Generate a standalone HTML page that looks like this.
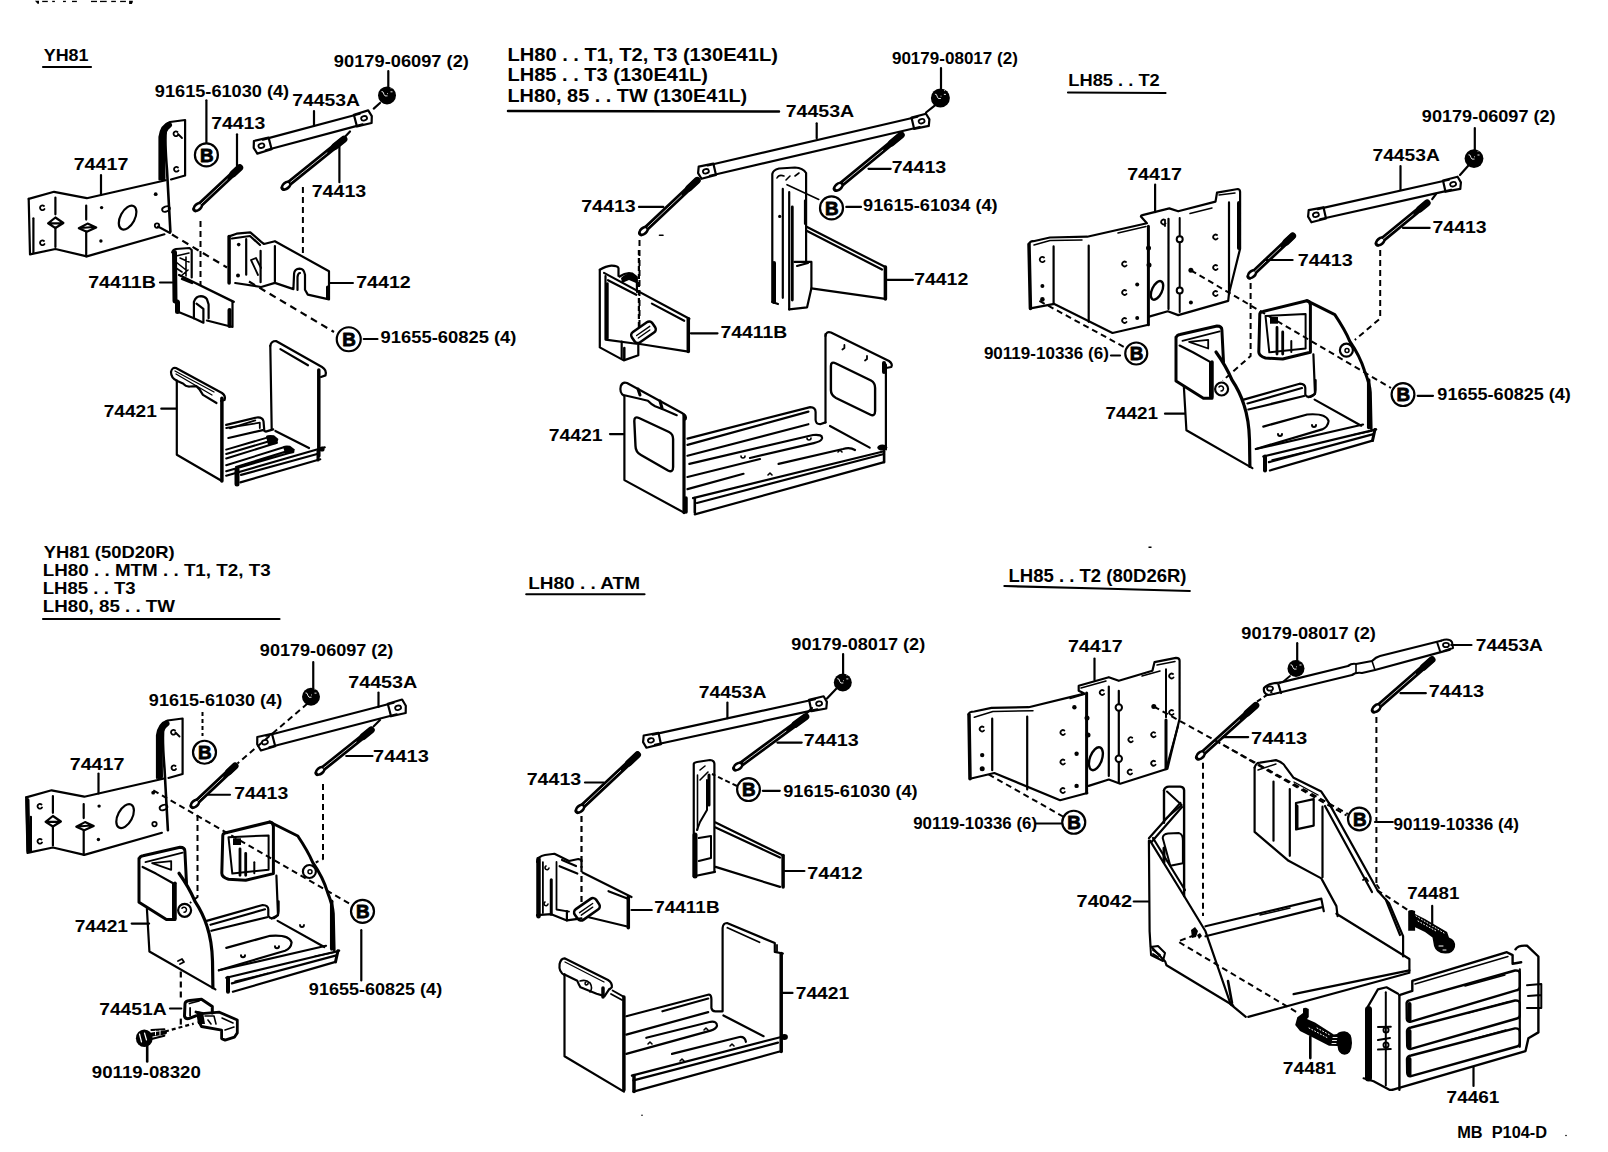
<!DOCTYPE html>
<html><head><meta charset="utf-8"><style>
html,body{margin:0;padding:0;background:#fff;}
svg{display:block;}
text{font-family:"Liberation Sans",sans-serif;font-weight:bold;fill:#000;}
</style></head><body>
<svg width="1608" height="1152" viewBox="0 0 1608 1152">
<rect width="1608" height="1152" fill="#fff"/>
<g fill="none" stroke="#000" stroke-width="2.2" stroke-linejoin="round" stroke-linecap="round">
<g fill="#000" stroke="none"><path d="M35 0.8 h4 v3 h-1.5 z"/><rect x="42.2" y="0.8" width="5.6" height="1.3"/><rect x="52.2" y="0.8" width="2.7" height="1.3"/><rect x="63" y="0.8" width="2.9" height="1.3"/><rect x="72" y="0.8" width="4.9" height="1.3"/><rect x="91" y="0.8" width="6" height="1.3"/><rect x="100" y="0.8" width="6.7" height="1.3"/><rect x="111.2" y="0.8" width="4.7" height="1.3"/><rect x="120.1" y="0.8" width="5.8" height="1.3"/><path d="M129.1 0.8 h3.7 v1.3 l-1 2 h-2.7 z"/></g>
<path d="M43 67 H91"/>
<g>
<path d="M28.7 198.9 L54.1 191.8 L86.8 198.2 L165.7 180.2"/>
<path d="M28.7 198.9 L30 254.4 L55.4 249 L86.8 256.4 L164.4 234.3"/>
<path d="M33.4 218.3 L33.4 253"/>
<path d="M159.5 179.5 L159.5 137 Q161 125 170 122 L185.1 120 L185.1 175.5 L171 179.5"/>
<path d="M162.5 178 L162 140 Q163 129 169 125" stroke-width="6"/>
<path d="M166 128 Q164.5 140 167 170 L170.4 231.7" stroke-width="2.6"/>
<path d="M55.4 197.6 V214.3 M55.4 228 V247"/>
<path d="M48.1 223.3 L55.4 217.5 L63.4 223 L55.4 228 Z M49 223.3 H62"/>
<path d="M86.2 205.6 V219.6 M86.2 231.7 V256.4"/>
<path d="M78.8 228.3 L87.5 223.6 L96.2 227.6 L86.7 231.7 Z M81 228 L93 227"/>
<ellipse cx="127.6" cy="217.6" rx="7.2" ry="13" transform="rotate(28 127.6 217.6)" stroke-width="2.2"/>
<path d="M44 206 a2.4 2.4 0 1 0 0.5 3 M44 241 a2.4 2.4 0 1 0 0.5 3 M177.5 132 a2.4 2.4 0 1 0 0.5 3 M178 134 l4 4 M178 167.5 a2.4 2.4 0 1 0 0.5 3" stroke-width="1.8"/>
<g fill="#000" stroke="none"><circle cx="101.6" cy="207.6" r="1.7"/><circle cx="100.9" cy="241" r="1.7"/><circle cx="155.7" cy="194.2" r="1.9"/></g>
<circle cx="157" cy="225.6" r="2.2" stroke-width="1.8"/>
<ellipse cx="166" cy="209" rx="4" ry="2.5" transform="rotate(-20 166 209)" stroke-width="1.8"/>
<path d="M101 175 V195"/>
</g>
<circle cx="206.4" cy="154.9" r="11.5" stroke-width="2.2"/>
<text x="200.00" y="161.50" font-size="18" stroke="#000" stroke-width="0.8" fill="#000" textLength="13.6" lengthAdjust="spacingAndGlyphs">B</text>
<path d="M206.4 100.3 V142.5"/>
<path d="M195.3 209.3 L239.7 167.6" stroke-width="6"/>
<ellipse cx="197.9" cy="206.9" rx="6" ry="4.3" transform="rotate(-43.2 197.9 206.9)" fill="#000" stroke="none"/>
<ellipse cx="197.9" cy="206.9" rx="3.4" ry="1.6" transform="rotate(-43.2 197.9 206.9)" fill="#fff" stroke="none"/>
<path d="M200.6 204.3 L227.3 179.3" stroke="#fff" stroke-width="0.8"/>
<path d="M233.0 173.9 L239.7 167.6" stroke-width="7"/>
<path d="M237 134.3 V165.6"/>
<path d="M283.5 187.8 L343.9 139.2" stroke-width="6"/>
<ellipse cx="286.2" cy="185.6" rx="6" ry="4.3" transform="rotate(-38.8 286.2 185.6)" fill="#000" stroke="none"/>
<ellipse cx="286.2" cy="185.6" rx="3.4" ry="1.6" transform="rotate(-38.8 286.2 185.6)" fill="#fff" stroke="none"/>
<path d="M290.7 182.0 L327.0 152.8" stroke="#fff" stroke-width="0.8"/>
<path d="M334.8 146.5 L343.9 139.2" stroke-width="7"/>
<path d="M339.4 145.4 V182.2"/>
<path d="M265.7 150.3 L362.6 124.4 M262.9 139.6 L359.8 113.7"/>
<path d="M271.6 149.2 L257.3 153.6 L253.7 147.8 L253.9 141.0 L268.5 137.6"/>
<path d="M271.5 148.7 L268.7 138.1"/>
<ellipse cx="261.4" cy="145.7" rx="3" ry="2.2" transform="rotate(-15.0 261.4 145.7)" stroke-width="1.8"/>
<path d="M357.0 126.4 L371.6 123.0 L371.8 116.2 L368.2 110.4 L353.9 114.8"/>
<path d="M356.8 125.9 L354.0 115.3"/>
<ellipse cx="364.1" cy="118.3" rx="3" ry="2.2" transform="rotate(-15.0 364.1 118.3)" stroke-width="1.8"/>
<path d="M314 111 V126"/>
<circle cx="387" cy="95.4" r="9" fill="#000" stroke="none"/>
<path d="M381.5 91.60000000000001 L383 91.9 L384 94.4 L385 95.9 H387.5 M390.5 91.80000000000001 H392.5 M390.6 88.0 h0.8 M387.2 93.60000000000001 h0.8" stroke="#fff" stroke-width="0.9" stroke-linecap="butt"/>
<path d="M388.3 71 V87"/>
<path d="M380 103 L373.75 108.6 M350 131.5 L345.3 136.4"/>
<path d="M302.9 187 V255" stroke-width="2" stroke-dasharray="6 4" stroke-linecap="butt"/>
<path d="M200.5 221 V285" stroke-width="2" stroke-dasharray="6 4" stroke-linecap="butt"/>
<path d="M158 226.5 L170 233" stroke-width="2"/>
<path d="M172 234.5 L227 267.5" stroke-width="2.2" stroke-dasharray="7 5" stroke-linecap="butt"/>
<path d="M249 281.5 L334 332" stroke-width="2.2" stroke-dasharray="7 5" stroke-linecap="butt"/>
<path d="M174.5 252.4 L175 301 L177.5 302 L177.5 311.4" stroke-width="5"/>
<path d="M172.2 252.4 Q173 249.5 176 249 L189.5 248 L191.7 250 L191.7 277.5"/>
<path d="M176 256 L189 253 M176 262 L186 270 M180 258 L189 262 M176 268 L182 272 M181 276 L188 270 M186 257 V276" stroke-width="1.6"/>
<path d="M179.1 275 L233.8 301.8 M182 279 L192 283" stroke-width="2.4"/>
<path d="M232.5 301.8 L232.5 327 L206.9 320.5 M203.4 322.7 L193.9 318.3 L177.4 311.4"/>
<path d="M229.5 310 V326" stroke-width="4"/>
<path d="M193.9 318.3 L193.9 301.8 Q196 296.2 200.8 296.2 Q205 296.5 206.9 299.2 L208.6 304.4 L208.6 318.3 M196.5 303.6 L203.4 308.8 L203.4 321.8" stroke-width="2.2"/>
<path d="M160 282.5 H172.3"/>
<path d="M229.1 236.4 L229.1 283" stroke-width="3.5"/>
<path d="M229.1 236.4 L236.6 233.7 L250.3 232.3 L261.2 241.9 L264 244 L274.9 241.2 L329 271.3 L329 299.4 L307.8 294.6 L305 289.8 L305 274.7 Q304 268.6 299.6 268.6 Q294.5 269 294.1 273.4 L293.4 289.1 L274.9 282.9 L261.2 287 L235.2 283"/>
<path d="M232 238.5 L250 236 L260 245"/>
<path d="M327.5 287 V298" stroke-width="3"/>
<path d="M246.2 239.2 V274.7 M260.6 250.8 V282.2 M274.9 246 V281.6 M297.5 290 V277 Q298 273 300 273"/>
<path d="M251 260 L256 258 L261 268 M251 260 L258 275" stroke-width="1.8"/>
<g fill="#000" stroke="none"><circle cx="238.7" cy="244.6" r="1.8"/><circle cx="238" cy="275.4" r="2"/></g>
<path d="M329.6 283 H352.9"/>
<path d="M176.8 380.7 L176.8 454.7 L221.9 481"/>
<path d="M221.9 398.2 L221.9 481" stroke-width="3.5"/>
<path d="M176.8 380.7 Q171 378 171 372 Q172 367 176 368 L222 393 Q226 396 224.6 400 L221 401"/>
<path d="M175 371 L214 392 M176 374 L212 395" stroke-width="1.3"/>
<path d="M176.8 380.7 L182.9 383.4 Q186 387 190 386.5 L196.3 386.1 Q200 389 203 394.9 L216.5 403"/>
<path d="M270.3 345.8 L271.7 429.2"/>
<path d="M270.3 345.8 Q271 341 276 341 L322 367 Q327 370 325.5 375.4 L321 377"/>
<path d="M318.8 370 L318.8 456" stroke-width="3.5"/>
<path d="M280.4 349.1 L308 365.3"/>
<path d="M226.2 424.9 L256.8 417.5 Q262.5 417 263.5 421.2 L264.3 430.9 L265.7 431.6 L273.2 429.4"/>
<path d="M229.9 428.3 L255.3 420.4" stroke-width="1.8"/>
<path d="M226.2 428 L259.8 422.7 V428" stroke-width="1.8"/>
<path d="M228.4 438 L262.8 430.1"/>
<path d="M226.2 449.6 L267.2 437.6 M226.2 458.5 L276.9 442.8 M226.2 454 L270 441" stroke-width="2"/>
<path d="M226.2 465.2 L283.7 447.3 M226.2 471.2 L293.4 451.8 M236 467 L286 451.5" stroke-width="2"/>
<g fill="#000" stroke="none"><path d="M266 436 Q268 434.5 274 435.3 L278.4 439 L277 444 L268 445 Z"/><path d="M283 446.5 Q285 445 290 445.8 L294.9 449.5 L293.5 453.3 L285 453.5 Z"/><circle cx="322" cy="449" r="2.6"/></g>
<path d="M226.2 475.7 L324.7 447.3 M241.1 474.9 L317.2 454 M240.4 482.4 L320.2 459.3"/>
<path d="M237 469.7 V483.9" stroke-width="5"/>
<path d="M275.4 430.9 L309 448.1"/>
<path d="M318 451 V460" stroke-width="3"/>
<path d="M161.3 408.7 H176.1"/>
<circle cx="348.75" cy="339.25" r="12" stroke-width="2.2"/>
<text x="342.35" y="345.85" font-size="18" stroke="#000" stroke-width="0.8" fill="#000" textLength="13.6" lengthAdjust="spacingAndGlyphs">B</text>
<path d="M363.75 339 H377.5"/>
<path d="M508 111 L779 111.5" stroke-width="2.5"/>
<path d="M710.0 175.8 L919.8 127.0 M707.7 165.5 L917.5 116.7"/>
<path d="M716.0 174.9 L701.5 178.8 L698.1 173.1 L698.7 166.6 L713.4 163.7"/>
<path d="M715.9 174.4 L713.5 164.2"/>
<ellipse cx="705.9" cy="171.3" rx="3" ry="2.2" transform="rotate(-13.1 705.9 171.3)" stroke-width="1.8"/>
<path d="M914.1 128.8 L928.8 125.9 L929.4 119.4 L926.0 113.7 L911.5 117.6"/>
<path d="M914.0 128.3 L911.6 118.1"/>
<ellipse cx="921.6" cy="121.2" rx="3" ry="2.2" transform="rotate(-13.1 921.6 121.2)" stroke-width="1.8"/>
<path d="M816.7 123.3 V138.2"/>
<circle cx="940.4" cy="98" r="9.5" fill="#000" stroke="none"/>
<path d="M934.9 94.2 L936.4 94.5 L937.4 97 L938.4 98.5 H940.9 M943.9 94.4 H945.9 M944.0 90.6 h0.8 M940.6 96.2 h0.8" stroke="#fff" stroke-width="0.9" stroke-linecap="butt"/>
<path d="M941 68 V88.5"/>
<path d="M935 105.4 L926 112.5"/>
<path d="M641.1 233.3 L697.2 180.4" stroke-width="6"/>
<ellipse cx="643.6" cy="230.9" rx="6" ry="4.3" transform="rotate(-43.3 643.6 230.9)" fill="#000" stroke="none"/>
<ellipse cx="643.6" cy="230.9" rx="3.4" ry="1.6" transform="rotate(-43.3 643.6 230.9)" fill="#fff" stroke="none"/>
<path d="M647.8 227.0 L681.5 195.2" stroke="#fff" stroke-width="0.8"/>
<path d="M688.8 188.3 L697.2 180.4" stroke-width="7"/>
<path d="M639 206.9 H663.3"/>
<path d="M639.5 240 V330" stroke-width="2" stroke-dasharray="6 4" stroke-linecap="butt"/>
<path d="M835.7 188.9 L901.2 135.0" stroke-width="6"/>
<ellipse cx="838.4" cy="186.7" rx="6" ry="4.3" transform="rotate(-39.5 838.4 186.7)" fill="#000" stroke="none"/>
<ellipse cx="838.4" cy="186.7" rx="3.4" ry="1.6" transform="rotate(-39.5 838.4 186.7)" fill="#fff" stroke="none"/>
<path d="M843.6 182.4 L882.9 150.1" stroke="#fff" stroke-width="0.8"/>
<path d="M891.4 143.1 L901.2 135.0" stroke-width="7"/>
<path d="M868.5 168.8 H890.7"/>
<circle cx="831.5" cy="207.9" r="11.5" stroke-width="2.2"/>
<text x="825.10" y="214.50" font-size="18" stroke="#000" stroke-width="0.8" fill="#000" textLength="13.6" lengthAdjust="spacingAndGlyphs">B</text>
<path d="M846.3 206.9 H861"/>
<path d="M818.8 199.5 L787 184.7" stroke-width="1.6"/>
<path d="M772.3 302 L772.3 174 Q773 170 779 168.5 L795 167.5 Q803 168 806.1 173 L806.1 261.9"/>
<path d="M782.8 188.9 V297.8 M789.2 192 V309.4 M805 200.5 V223.8"/>
<path d="M792.3 206.9 V300" stroke-width="2.8"/>
<path d="M774 263 V302" stroke-width="4"/>
<path d="M794.5 261.9 H811.4 V288.3 L807.1 307.3 L789.2 309.4 M772.3 302 L778 304 M797 266 L808 263"/>
<path d="M807.1 227 L885.4 267.1 M807.1 231 L882 269.5"/>
<path d="M885.4 267.1 V298.9" stroke-width="3.5"/>
<path d="M811.4 288.3 L885.4 298.9"/>
<path d="M777 178 Q779 174 784 176 M786 180 l4 -4 M795 176 l4 -3" stroke-width="1.6"/>
<circle cx="779.7" cy="216.4" r="1.6" fill="#000" stroke="none"/>
<path d="M887.5 279.8 H912.9"/>
<path d="M599.8 269.8 L599.8 347.4 L623.75 360.4 L638.3 355.2 L638.3 343.75"/>
<path d="M599.8 269.8 Q606 266 611.3 265.6 Q618 265.5 618.5 268.2 L618.5 276"/>
<path d="M605.5 276 V339.6 L636.25 343.75 M607.6 283.3 V338.5"/>
<path d="M619.6 276.5 Q626 272 632 273.5 L636.8 277.1 L637 292" stroke-width="2.2"/>
<path d="M621 278 Q626 272.5 632 274 L636 277 L636 283 L629 280 L622 283 Z" fill="#000" stroke="none"/>
<path d="M604 272.9 L689.4 318.75 M608 280.2 L636.25 294.8 M651.9 303.6 L684.2 320.8"/>
<path d="M688.3 318.75 V351.6" stroke-width="3.5"/>
<path d="M638.3 343.75 L688.3 351.6"/>
<path d="M621.7 341.7 V358.3"/>
<path d="M624.3 348 V359.4" stroke-width="2.5"/>
<g transform="rotate(-35 643.5 332.3)"><rect x="631" y="326" width="25" height="12.5" rx="4" stroke-width="2.6"/><path d="M636 331 H652 M636 334 H650" stroke-width="1.4"/></g>
<path d="M638.9 250 V328" stroke-width="2.2" stroke-dasharray="5 3" stroke-linecap="butt"/>
<path d="M690.9 333.3 H717.5"/>
<path d="M624.4 397.1 L624.4 480.1 L684 512.6"/>
<path d="M684 415.2 L684 512.6" stroke-width="3.2"/>
<path d="M624.4 396 Q619 393 620.8 386 Q622.5 381.5 627 383 L682 413 Q687 416 685.7 419 L684 420"/>
<path d="M624.4 395.3 L640.7 399 L647.9 400.7 Q651 404 655.1 406.2 L664.1 409.8 L676.7 415.2"/>
<path d="M638 389 L640 395 M660 401 L662 408" stroke-width="3"/>
<path d="M634.3 421 Q634.3 416 639 418 L669 432 Q673.1 434 673.1 439 L673.1 467 Q673.1 473 668 470.5 L641 455 Q635.5 452 635.5 446 Z" stroke-width="2.4"/>
<path d="M825.5 334 L825.5 422.4"/>
<path d="M825.5 336 Q826 331 831 332.5 L889 361 Q893 364 891.3 367 L886 368"/>
<path d="M885.9 364.7 L885.9 449.4"/>
<path d="M830.9 366 Q830.9 361 836 363.5 L871 380.5 Q875.1 382.7 875.1 388 L875.1 411 Q875.1 417 870 414.5 L836 398 Q830.9 395.3 830.9 390 Z" stroke-width="2.4"/>
<path d="M844.4 345 v3 l-2 1.5 M867 356 v3 l-2 1.5" stroke-width="1.8"/>
<path d="M884 363 V372" stroke-width="4"/>
<path d="M687.5 438.6 L810.2 407.1 Q815.6 407.5 815.6 412 L815.6 420 Q816 424.2 820.1 424.2 L825.5 422.4"/>
<path d="M687.5 444.9 L808.4 411.6 M687.5 455.7 L808.4 424.2"/>
<path d="M689.4 463.9 L813 435 Q822.8 434 822 438.5 Q821 441.5 813.8 443.1 L750 458"/>
<path d="M830 426 L869.7 447.6"/>
<path d="M687.5 489.1 L743.5 473.8 M778.6 463.9 L843 449 Q850 447 855 450 M687.5 477 L760 459"/>
<path d="M694.8 514.4 L884.1 462.1 M693 498.1 L884.1 451.2 M697 503 L884 454"/>
<path d="M694.8 498.1 V512.6 M884.1 451.2 V462.1" stroke-width="2.6"/>
<path d="M686 498 V512" stroke-width="3.5"/>
<g fill="#000" stroke="none"><ellipse cx="882.3" cy="447.6" rx="5" ry="3"/></g>
<path d="M741 456 a2 2 0 0 0 4 0 M807 438 a2 2 0 0 0 4 0 M768 475 l2 -2 l2 2 M838 452 l2 -2 l2 2" stroke-width="1.6"/>
<path d="M610 434.1 H623.5"/>
<path d="M1068 92.5 L1165.5 93"/>
<path d="M1320.0 219.3 L1451.3 189.9 M1317.7 209.1 L1449.0 179.7"/>
<path d="M1326.0 218.5 L1311.4 222.3 L1308.1 216.6 L1308.7 210.1 L1323.5 207.3"/>
<path d="M1325.9 218.0 L1323.6 207.8"/>
<ellipse cx="1315.9" cy="214.8" rx="3" ry="2.2" transform="rotate(-12.6 1315.9 214.8)" stroke-width="1.8"/>
<path d="M1445.5 191.7 L1460.3 188.9 L1460.9 182.4 L1457.6 176.7 L1443.0 180.5"/>
<path d="M1445.4 191.2 L1443.1 181.0"/>
<ellipse cx="1453.1" cy="184.2" rx="3" ry="2.2" transform="rotate(-12.6 1453.1 184.2)" stroke-width="1.8"/>
<path d="M1400.5 166 V190"/>
<circle cx="1474" cy="158.6" r="9.4" fill="#000" stroke="none"/>
<path d="M1468.5 154.79999999999998 L1470 155.1 L1471 157.6 L1472 159.1 H1474.5 M1477.5 155.0 H1479.5 M1477.6 151.2 h0.8 M1474.2 156.79999999999998 h0.8" stroke="#fff" stroke-width="0.9" stroke-linecap="butt"/>
<path d="M1474.8 128 V150"/>
<path d="M1468 166 L1460 175"/>
<path d="M1377.6 243.6 L1427.1 203.0" stroke-width="6"/>
<ellipse cx="1380.3" cy="241.4" rx="6" ry="4.3" transform="rotate(-39.4 1380.3 241.4)" fill="#000" stroke="none"/>
<ellipse cx="1380.3" cy="241.4" rx="3.4" ry="1.6" transform="rotate(-39.4 1380.3 241.4)" fill="#fff" stroke="none"/>
<path d="M1383.5 238.7 L1413.2 214.4" stroke="#fff" stroke-width="0.8"/>
<path d="M1419.7 209.1 L1427.1 203.0" stroke-width="7"/>
<path d="M1403 227.9 H1429.6"/>
<path d="M1436 194 L1432.2 199.2"/>
<path d="M1249.5 276.6 L1292.6 236.0" stroke-width="6"/>
<ellipse cx="1252.0" cy="274.2" rx="6" ry="4.3" transform="rotate(-43.3 1252.0 274.2)" fill="#000" stroke="none"/>
<ellipse cx="1252.0" cy="274.2" rx="3.4" ry="1.6" transform="rotate(-43.3 1252.0 274.2)" fill="#fff" stroke="none"/>
<path d="M1254.7 271.7 L1280.5 247.4" stroke="#fff" stroke-width="0.8"/>
<path d="M1286.1 242.1 L1292.6 236.0" stroke-width="7"/>
<path d="M1264.7 260 H1292.6"/>
<path d="M1380.2 250 V318.4 L1354.8 340" stroke-width="2" stroke-dasharray="6 4" stroke-linecap="butt"/>
<path d="M1250.6 283 V356 L1222.7 380.7" stroke-width="2" stroke-dasharray="6 4" stroke-linecap="butt"/>
<path d="M1029 244.2 L1030.4 308.4" stroke-width="3.5"/>
<path d="M1029 244.2 Q1030 241 1033.4 241.2 L1049.9 237.5 L1087.2 236.7 L1146.9 223.3 L1140.9 216.6 Q1141 215 1142.4 215.1 L1163.3 209.9 L1169.3 208.4 L1178.2 211.3 L1215.5 201.6 L1217 192.7 L1237.9 189 Q1240 189.5 1240.1 191.9 L1240.1 248.7 L1229 293.4 L1228.2 300.9 L1178.2 315.1 L1167.8 311.3 L1149.1 316.6"/>
<path d="M1034 245 L1050 240.5 L1082 240 M1118 233 L1146 226.5 M1190 213.5 L1212 208 M1219 195 L1235 193" stroke-width="1.5"/>
<path d="M1148.4 324.8 L1112.5 333 L1054.3 303.9 L1030.4 308.4"/>
<path d="M1148.4 226.3 L1148.4 324.8" stroke-width="3"/>
<path d="M1053.6 246.4 V303.9 M1088.7 245.7 V321.8 M1168.5 218.8 V309.1 M1229 202.4 V293.4" stroke-width="2.2"/>
<path d="M1179.7 218 V236 M1179.7 242.5 V287 M1179.7 294 V312.1" stroke-width="2"/>
<path d="M1239 203 V248" stroke-width="4"/>
<circle cx="1179.7" cy="239.2" r="3" stroke-width="2"/><circle cx="1179.7" cy="290.4" r="3" stroke-width="2"/>
<ellipse cx="1157" cy="290.4" rx="5" ry="10" transform="rotate(25 1157 290.4)" stroke-width="2.4"/>
<path d="M1044 257.5 a2.6 2.6 0 1 0 0.5 3.5 M1126 262 a2.4 2.4 0 1 0 0.5 3.5 M1126 290.5 a2.4 2.4 0 1 0 0.5 3.5 M1126 318.5 a2.4 2.4 0 1 0 0.5 3.5 M1217 235 a2.4 2.4 0 1 0 0.5 3.5 M1217 265.5 a2.4 2.4 0 1 0 0.5 3.5 M1217 291.5 a2.4 2.4 0 1 0 0.5 3.5 M1165 220 a2.4 2.4 0 1 0 0.5 3.5 M1165 220 v6" stroke-width="1.8"/>
<g fill="#000" stroke="none"><circle cx="1042.4" cy="286" r="2"/><circle cx="1042.4" cy="299.4" r="2.3"/><circle cx="1137.2" cy="318.1" r="2"/><circle cx="1137.2" cy="284.5" r="2"/><circle cx="1190.9" cy="270.3" r="2.5"/><circle cx="1190.9" cy="302.4" r="2"/><circle cx="1148.5" cy="248" r="2.5"/><circle cx="1149" cy="265" r="2.5"/></g>
<path d="M1155.1 184.5 V212.1"/>
<circle cx="1136.25" cy="353.5" r="11" stroke-width="2.2"/>
<text x="1129.85" y="360.10" font-size="18" stroke="#000" stroke-width="0.8" fill="#000" textLength="13.6" lengthAdjust="spacingAndGlyphs">B</text>
<path d="M1111 355.5 H1120"/>
<path d="M1039.4 300.9 L1125 347.5" stroke-width="2" stroke-dasharray="6 4" stroke-linecap="butt"/>
<circle cx="1403" cy="394.6" r="11.4" stroke-width="2.2"/>
<text x="1396.60" y="401.20" font-size="18" stroke="#000" stroke-width="0.8" fill="#000" textLength="13.6" lengthAdjust="spacingAndGlyphs">B</text>
<path d="M1417.7 395.8 H1433"/>
<path d="M1190.9 270.3 L1391 388" stroke-width="2" stroke-dasharray="6 4" stroke-linecap="butt"/>
<path d="M1176.5 337 Q1177 335 1180 334.5 L1217 326 Q1221.9 326 1221.9 330 L1223.5 362 M1176 337 L1176 381 L1203.4 398.2 L1212 398.2" stroke-width="3"/>
<path d="M1179.6 345.6 L1192.9 352.3 L1210.1 361.9 L1210.1 396.2" stroke-width="2.2"/>
<path d="M1212 362 L1212 397" stroke-width="3.5"/>
<path d="M1182.4 340.8 L1219.7 331.3 M1189.1 341.8 L1208.2 339.9 L1208.2 348.5 Z" stroke-width="1.8"/>
<path d="M1183.9 387.3 L1186.4 430.2 L1252.4 468.1"/>
<path d="M1216 352 Q1226 366 1232 380 Q1240 392 1244 405 Q1249 420 1249.5 440 L1249.9 466.4" stroke-width="3.2"/>
<path d="M1259.8 314 Q1260 312 1263 311.5 L1306.8 300.7 Q1310 301 1310.4 305 L1310.4 352.3 L1282.7 359 L1265.5 358 Q1258.8 356 1258.8 352 Z" stroke-width="3"/>
<path d="M1265.5 316 L1305.6 314.1 L1305.6 348.5 L1269.3 352.3 Z" stroke-width="2"/>
<path d="M1277 327.5 V354 M1282.7 332 V354" stroke-width="2.8"/>
<path d="M1291.3 341 V352" stroke-width="2"/>
<path d="M1270 317 h8 v6.7 h-8 z" fill="#000" stroke="none"/>
<path d="M1306.8 300.7 L1334.8 314.7 Q1345 330 1349.7 341.1 Q1360 356 1364.5 370.8 Q1370 385 1370.3 392.2 L1371.1 428.5" stroke-width="3"/>
<circle cx="1346.4" cy="350.2" r="6.5" stroke-width="2.2"/><circle cx="1347" cy="350.5" r="2" stroke-width="1.5"/>
<path d="M1313.4 354.3 L1315 393.9 L1308.5 397.2"/>
<path d="M1243.7 399.6 L1299.7 383.7 Q1305.3 384 1305.3 388 L1305.3 394.9 Q1307 397.5 1310.9 396.8 Q1315.6 395 1315.6 390 L1315.6 380"/>
<path d="M1247.5 403.5 L1302 388 M1248.4 409.5 L1304 396"/>
<path d="M1314.6 399.6 L1361.3 425.7"/>
<path d="M1263.3 426.6 L1307.2 414.5 Q1326 413 1328.6 421 Q1328 427 1322.1 429.4 L1255.9 449"/>
<path d="M1255.9 449 L1363 424.5"/>
<path d="M1263.3 456.5 L1376.2 429.4 M1268.9 462.1 L1373.4 434.1 M1269.9 470.5 L1372.5 440.6"/>
<path d="M1265 456.5 V470.5" stroke-width="4"/>
<path d="M1375 429.4 L1372.5 440.6" stroke-width="3"/>
<path d="M1272 460 L1305 452 M1352 435 L1372 431" stroke-width="1.4"/>
<path d="M1368.7 380 V427.6" stroke-width="3.5"/>
<path d="M1278 434 a2 2 0 0 0 4 0 M1312 425 a2 2 0 0 0 4 0" stroke-width="2"/>
<circle cx="1221.6" cy="389" r="6.5" stroke-width="2.2"/><path d="M1219 387 a2.5 2.5 0 1 1 2 4" stroke-width="1.5"/>
<path d="M1165 413.7 H1184.7"/>
<path d="M43 619 L279.5 619"/>
<g transform="translate(-2.5 598.5)">
<path d="M28.7 198.9 L54.1 191.8 L86.8 198.2 L165.7 180.2"/>
<path d="M28.7 198.9 L30 254.4 L55.4 249 L86.8 256.4 L164.4 234.3"/>
<path d="M33.4 218.3 L33.4 253"/>
<path d="M159.5 179.5 L159.5 137 Q161 125 170 122 L185.1 120 L185.1 175.5 L171 179.5"/>
<path d="M162.5 178 L162 140 Q163 129 169 125" stroke-width="6"/>
<path d="M166 128 Q164.5 140 167 170 L170.4 231.7" stroke-width="2.6"/>
<path d="M55.4 197.6 V214.3 M55.4 228 V247"/>
<path d="M48.1 223.3 L55.4 217.5 L63.4 223 L55.4 228 Z M49 223.3 H62"/>
<path d="M86.2 205.6 V219.6 M86.2 231.7 V256.4"/>
<path d="M78.8 228.3 L87.5 223.6 L96.2 227.6 L86.7 231.7 Z M81 228 L93 227"/>
<ellipse cx="127.6" cy="217.6" rx="7.2" ry="13" transform="rotate(28 127.6 217.6)" stroke-width="2.2"/>
<path d="M44 206 a2.4 2.4 0 1 0 0.5 3 M44 241 a2.4 2.4 0 1 0 0.5 3 M177.5 132 a2.4 2.4 0 1 0 0.5 3 M178 134 l4 4 M178 167.5 a2.4 2.4 0 1 0 0.5 3" stroke-width="1.8"/>
<g fill="#000" stroke="none"><circle cx="101.6" cy="207.6" r="1.7"/><circle cx="100.9" cy="241" r="1.7"/><circle cx="155.7" cy="194.2" r="1.9"/></g>
<circle cx="157" cy="225.6" r="2.2" stroke-width="1.8"/>
<ellipse cx="166" cy="209" rx="4" ry="2.5" transform="rotate(-20 166 209)" stroke-width="1.8"/>
<path d="M101 175 V195"/>
</g>
<path d="M27.5 800 L28.5 851" stroke-width="4"/>
<circle cx="204.5" cy="752.25" r="11.5" stroke-width="2.2"/>
<text x="198.10" y="758.85" font-size="18" stroke="#000" stroke-width="0.8" fill="#000" textLength="13.6" lengthAdjust="spacingAndGlyphs">B</text>
<path d="M202.5 712 V736" stroke-width="2" stroke-dasharray="4 3" stroke-linecap="butt"/>
<circle cx="311" cy="696.75" r="9" fill="#000" stroke="none"/>
<path d="M305.5 692.95 L307 693.25 L308 695.75 L309 697.25 H311.5 M314.5 693.15 H316.5 M314.6 689.35 h0.8 M311.2 694.95 h0.8" stroke="#fff" stroke-width="0.9" stroke-linecap="butt"/>
<path d="M313.25 662 V688"/>
<path d="M269.3 747.3 L396.7 714.3 M266.3 735.7 L393.7 702.7"/>
<path d="M275.2 746.3 L260.9 750.5 L257.2 744.3 L257.3 737.0 L272.0 733.7"/>
<path d="M275.1 745.8 L272.1 734.2"/>
<ellipse cx="264.9" cy="742.2" rx="3" ry="2.2" transform="rotate(-14.5 264.9 742.2)" stroke-width="1.8"/>
<path d="M391.0 716.3 L405.7 713.0 L405.8 705.7 L402.1 699.5 L387.8 703.7"/>
<path d="M390.9 715.8 L387.9 704.2"/>
<ellipse cx="398.1" cy="707.8" rx="3" ry="2.2" transform="rotate(-14.5 398.1 707.8)" stroke-width="1.8"/>
<path d="M378.5 692.5 V707"/>
<path d="M307.5 703.5 L237.5 763.5" stroke-width="2" stroke-dasharray="6 4" stroke-linecap="butt"/>
<path d="M317.5 773.0 L371.2 730.0" stroke-width="6"/>
<ellipse cx="320.2" cy="770.8" rx="6" ry="4.3" transform="rotate(-38.7 320.2 770.8)" fill="#000" stroke="none"/>
<ellipse cx="320.2" cy="770.8" rx="3.4" ry="1.6" transform="rotate(-38.7 320.2 770.8)" fill="#fff" stroke="none"/>
<path d="M323.9 767.8 L356.2 742.0" stroke="#fff" stroke-width="0.8"/>
<path d="M363.2 736.5 L371.2 730.0" stroke-width="7"/>
<path d="M346.25 756 H372.5"/>
<path d="M380 720 L373.75 726.25"/>
<path d="M192.5 806.0 L235.0 766.0" stroke-width="6"/>
<ellipse cx="195.0" cy="803.6" rx="6" ry="4.3" transform="rotate(-43.3 195.0 803.6)" fill="#000" stroke="none"/>
<ellipse cx="195.0" cy="803.6" rx="3.4" ry="1.6" transform="rotate(-43.3 195.0 803.6)" fill="#fff" stroke="none"/>
<path d="M197.6 801.2 L223.1 777.2" stroke="#fff" stroke-width="0.8"/>
<path d="M228.6 772.0 L235.0 766.0" stroke-width="7"/>
<path d="M207.5 794.75 H230"/>
<path d="M323 784 V859 L315.7 862.5" stroke-width="2" stroke-dasharray="6 4" stroke-linecap="butt"/>
<path d="M197.5 815 V897 L190 903" stroke-width="2" stroke-dasharray="6 4" stroke-linecap="butt"/>
<path d="M153.3 790.3 L352 905" stroke-width="2" stroke-dasharray="6 4" stroke-linecap="butt"/>
<g transform="translate(-1037 521.3)">
<path d="M1176.5 337 Q1177 335 1180 334.5 L1217 326 Q1221.9 326 1221.9 330 L1223.5 362 M1176 337 L1176 381 L1203.4 398.2 L1212 398.2" stroke-width="3"/>
<path d="M1179.6 345.6 L1192.9 352.3 L1210.1 361.9 L1210.1 396.2" stroke-width="2.2"/>
<path d="M1212 362 L1212 397" stroke-width="3.5"/>
<path d="M1182.4 340.8 L1219.7 331.3 M1189.1 341.8 L1208.2 339.9 L1208.2 348.5 Z" stroke-width="1.8"/>
<path d="M1183.9 387.3 L1186.4 430.2 L1252.4 468.1"/>
<path d="M1216 352 Q1226 366 1232 380 Q1240 392 1244 405 Q1249 420 1249.5 440 L1249.9 466.4" stroke-width="3.2"/>
<path d="M1259.8 314 Q1260 312 1263 311.5 L1306.8 300.7 Q1310 301 1310.4 305 L1310.4 352.3 L1282.7 359 L1265.5 358 Q1258.8 356 1258.8 352 Z" stroke-width="3"/>
<path d="M1265.5 316 L1305.6 314.1 L1305.6 348.5 L1269.3 352.3 Z" stroke-width="2"/>
<path d="M1277 327.5 V354 M1282.7 332 V354" stroke-width="2.8"/>
<path d="M1291.3 341 V352" stroke-width="2"/>
<path d="M1270 317 h8 v6.7 h-8 z" fill="#000" stroke="none"/>
<path d="M1306.8 300.7 L1334.8 314.7 Q1345 330 1349.7 341.1 Q1360 356 1364.5 370.8 Q1370 385 1370.3 392.2 L1371.1 428.5" stroke-width="3"/>
<circle cx="1346.4" cy="350.2" r="6.5" stroke-width="2.2"/><circle cx="1347" cy="350.5" r="2" stroke-width="1.5"/>
<path d="M1313.4 354.3 L1315 393.9 L1308.5 397.2"/>
<path d="M1243.7 399.6 L1299.7 383.7 Q1305.3 384 1305.3 388 L1305.3 394.9 Q1307 397.5 1310.9 396.8 Q1315.6 395 1315.6 390 L1315.6 380"/>
<path d="M1247.5 403.5 L1302 388 M1248.4 409.5 L1304 396"/>
<path d="M1314.6 399.6 L1361.3 425.7"/>
<path d="M1263.3 426.6 L1307.2 414.5 Q1326 413 1328.6 421 Q1328 427 1322.1 429.4 L1255.9 449"/>
<path d="M1255.9 449 L1363 424.5"/>
<path d="M1263.3 456.5 L1376.2 429.4 M1268.9 462.1 L1373.4 434.1 M1269.9 470.5 L1372.5 440.6"/>
<path d="M1265 456.5 V470.5" stroke-width="4"/>
<path d="M1375 429.4 L1372.5 440.6" stroke-width="3"/>
<path d="M1272 460 L1305 452 M1352 435 L1372 431" stroke-width="1.4"/>
<path d="M1368.7 380 V427.6" stroke-width="3.5"/>
<path d="M1278 434 a2 2 0 0 0 4 0 M1312 425 a2 2 0 0 0 4 0" stroke-width="2"/>
<circle cx="1221.6" cy="389" r="6.5" stroke-width="2.2"/><path d="M1219 387 a2.5 2.5 0 1 1 2 4" stroke-width="1.5"/>
</g>
<path d="M131.7 923.6 H149.1"/>
<circle cx="362.5" cy="911.3" r="11.5" stroke-width="2.2"/>
<text x="356.10" y="917.90" font-size="18" stroke="#000" stroke-width="0.8" fill="#000" textLength="13.6" lengthAdjust="spacingAndGlyphs">B</text>
<path d="M361.3 930.2 V980.5"/>
<path d="M180.8 971.5 V1000.7" stroke-width="2.2" stroke-dasharray="6 4" stroke-linecap="butt"/>
<path d="M180.8 1018.6 V1026" stroke-width="2.2" stroke-dasharray="6 4" stroke-linecap="butt"/>
<path d="M178 961 l4 -2 l2 3 l-4 2" stroke-width="1.8"/>
<path d="M300 925 a2 2 0 0 0 4 0" stroke-width="1.8"/>
<path d="M185 1004 Q185 1001 190 1000.5 L201.5 999.3 L212.3 1006.5 L212.3 1013 M185 1004 L184.5 1016 Q185 1019 188.7 1018.6 L195.8 1015.8" stroke-width="3"/>
<path d="M190.1 1007.9 V1015.8 M189.4 1003.5 L199 1001" stroke-width="1.8"/>
<path d="M196 1012 L201.5 1013.6 L219.4 1012.2 L237.3 1020 L237.3 1032.9 L234.4 1037.2 L225.1 1040.1 L221.6 1038.6 L221.6 1030.1 L201.5 1026.5 L199 1022" stroke-width="2.8"/>
<path d="M205 1016 L214 1016 L216 1024 M222 1018 L233 1023 M225 1030 L234 1027 M208 1020 l3 4" stroke-width="1.6"/>
<g fill="#000" stroke="none"><path d="M196 1011 L203 1012 L205 1024 L198 1024 Z"/></g>
<ellipse cx="144.3" cy="1038.3" rx="8.4" ry="8.8" fill="#000" stroke="none"/>
<path d="M139.5 1034 L141.5 1042 M144.5 1033 L146.5 1040" stroke-width="1.2" stroke="#fff"/>
<path d="M151.5 1030 L164.3 1029.3 M151.5 1039 L164.3 1035.8" stroke-width="2.2"/>
<path d="M152 1034.5 L165 1032.5" stroke-width="4"/>
<path d="M155.5 1031 V1035 M160 1030.5 V1034.5" stroke-width="1" stroke="#fff"/>
<path d="M165 1031.5 L193.7 1023.6" stroke-width="2.2" stroke-dasharray="4 3" stroke-linecap="butt"/>
<path d="M147.2 1046 V1061.5" stroke-width="2.6"/>
<path d="M170 1008.5 H181.25"/>
<path d="M526.25 594.25 L644.5 594.25"/>
<circle cx="842.8" cy="682.5" r="9" fill="#000" stroke="none"/>
<path d="M837.3 678.7 L838.8 679.0 L839.8 681.5 L840.8 683.0 H843.3 M846.3 678.9 H848.3 M846.4 675.1 h0.8 M843.0 680.7 h0.8" stroke="#fff" stroke-width="0.9" stroke-linecap="butt"/>
<path d="M843.1 654 V675"/>
<path d="M836 689 L827 698.5"/>
<path d="M655.0 744.8 L817.3 709.4 M652.7 734.6 L815.0 699.2"/>
<path d="M661.0 744.1 L646.4 747.7 L643.1 742.1 L643.7 735.5 L658.5 732.8"/>
<path d="M660.8 743.6 L658.6 733.3"/>
<ellipse cx="650.9" cy="740.4" rx="3" ry="2.2" transform="rotate(-12.3 650.9 740.4)" stroke-width="1.8"/>
<path d="M811.5 711.2 L826.3 708.5 L826.9 701.9 L823.6 696.3 L809.0 699.9"/>
<path d="M811.4 710.7 L809.2 700.4"/>
<ellipse cx="819.1" cy="703.6" rx="3" ry="2.2" transform="rotate(-12.3 819.1 703.6)" stroke-width="1.8"/>
<path d="M727.4 702.5 V718.2"/>
<path d="M735.2 768.5 L805.8 716.6" stroke-width="6"/>
<ellipse cx="738.0" cy="766.4" rx="6" ry="4.3" transform="rotate(-36.3 738.0 766.4)" fill="#000" stroke="none"/>
<ellipse cx="738.0" cy="766.4" rx="3.4" ry="1.6" transform="rotate(-36.3 738.0 766.4)" fill="#fff" stroke="none"/>
<path d="M743.7 762.3 L786.0 731.1" stroke="#fff" stroke-width="0.8"/>
<path d="M795.2 724.4 L805.8 716.6" stroke-width="7"/>
<path d="M777.4 742.6 H801.7"/>
<path d="M812 708 L807 713"/>
<circle cx="748.5" cy="789.6" r="11.4" stroke-width="2.2"/>
<text x="742.10" y="796.20" font-size="18" stroke="#000" stroke-width="0.8" fill="#000" textLength="13.6" lengthAdjust="spacingAndGlyphs">B</text>
<path d="M762.8 790.8 H779.8"/>
<path d="M737 786 L712 774" stroke-width="2" stroke-dasharray="5 3" stroke-linecap="butt"/>
<path d="M577.5 811.0 L637.5 754.8" stroke-width="6"/>
<ellipse cx="580.1" cy="808.6" rx="6" ry="4.3" transform="rotate(-43.2 580.1 808.6)" fill="#000" stroke="none"/>
<ellipse cx="580.1" cy="808.6" rx="3.4" ry="1.6" transform="rotate(-43.2 580.1 808.6)" fill="#fff" stroke="none"/>
<path d="M584.7 804.2 L620.7 770.5" stroke="#fff" stroke-width="0.8"/>
<path d="M628.5 763.2 L637.5 754.8" stroke-width="7"/>
<path d="M585 782.5 H603.75"/>
<path d="M581.5 816 V904" stroke-width="2.2" stroke-dasharray="6 4" stroke-linecap="butt"/>
<path d="M693.75 876.25 L693.75 764 Q694 762.5 697 762 L710 760 Q714.4 760.5 714.4 764 L714.4 871.25"/>
<path d="M695 835 V876" stroke-width="5"/>
<path d="M697.5 775 L697.5 830 M700 770 L705 766 M700 780 L708 772" stroke-width="1.6"/>
<path d="M707 780 V810 L700 822 L697 830" stroke-width="2"/>
<path d="M709 775 V805" stroke-width="3"/>
<path d="M698.75 838 L711 836 L711 858 L698.75 861" stroke-width="2"/>
<path d="M693.75 876.25 L715 871.9"/>
<path d="M715.6 822.5 L783.1 855.6 M715.6 827.5 L780 857.5"/>
<path d="M783.1 855.6 V886.9" stroke-width="3.5"/>
<path d="M715.6 866.9 L780 886.9"/>
<path d="M784.4 871 H804.4"/>
<path d="M538.5 859 L538.5 916.25" stroke-width="4.5"/>
<path d="M537 862 Q538 856 545 855 L554.4 853.75 L558.5 855.8 L569 861 L578.3 859 L581.5 860 L581.5 867.3"/>
<path d="M556.5 862 V909.5 L569 911.6 M542.9 862.1 V913.1" stroke-width="1.8"/>
<path d="M551.25 879.8 V914.2" stroke-width="3"/>
<path d="M537 915.2 L551.25 914.2 L566.9 920.4 L581.5 918.3"/>
<path d="M559.6 866.25 L577.3 873.5 M582.5 872.5 L631.5 897 M608.5 891.25 L627.3 898.5 M562 860 L576 866"/>
<path d="M628.3 897 V927.7" stroke-width="3.5"/>
<path d="M588.75 917.3 L628.3 926.7"/>
<path d="M566.9 911 V920.4"/>
<g transform="rotate(-35 586.7 909.5)"><rect x="574" y="903" width="26" height="13" rx="4" stroke-width="2.6"/><path d="M579 908 H595 M579 911 H593" stroke-width="1.4"/></g>
<path d="M546 866 a2 2 0 1 0 3 2 M545 902 a2 2 0 1 0 3 2" stroke-width="1.6"/>
<path d="M631.5 910 H651.8"/>
<path d="M564.5 974.4 L564.5 1056.3 L623.9 1091.6"/>
<path d="M623.9 996.9 L623.9 1090" stroke-width="3.5"/>
<path d="M564.5 975 Q558.5 972 559.6 964 Q561 958 565 958.4 L608 980 Q612.5 983 611.8 987.3 L610 989"/>
<path d="M565 962 L604 982" stroke-width="1.3"/>
<path d="M564.5 974.4 L577.3 980.8 Q579 985 580.5 987.3 L596.6 993.7 L604.6 996.1 L609.4 988.9"/>
<path d="M580 981 Q586 979 590 983 Q593 988 590 992 M586 982 a1.5 1.5 0 1 0 2 1" stroke-width="1.6"/>
<path d="M603 988 V997" stroke-width="3.5"/>
<path d="M722.6 1011.3 L722.6 928 Q723 923 727 923 L774.8 943.1 L774.8 951.9 L782.8 953.5"/>
<path d="M781.2 953.5 L781.2 1051.5" stroke-width="3.5"/>
<path d="M727.4 927.8 L759.5 942.3 M777 945 V951" stroke-width="1.8"/>
<path d="M626.3 1016.2 L709 994.5 Q711.4 995 711.4 999 L711.4 1008 Q712 1011.3 715.4 1011.3 L721.8 1011.3"/>
<path d="M662.4 1011.3 L708.2 998.5 M626.3 1034.6 L708.2 1012.1"/>
<path d="M646.3 1037.8 L710.6 1021.8 Q717 1021 717 1025.8 Q716 1029 710.6 1030.6 L626.3 1053.9"/>
<path d="M723.4 1015.4 L763.6 1036.2"/>
<path d="M672 1053.9 L739.5 1037 Q745 1036.5 745.9 1041.8"/>
<path d="M631.9 1075.6 L781.2 1037 M633.5 1080.4 L778 1042.6 M633.5 1091.6 L779.6 1051.5"/>
<path d="M634 1075.6 V1091.6" stroke-width="3.5"/>
<ellipse cx="784.4" cy="1037" rx="3.5" ry="3" fill="#000" stroke="none"/>
<path d="M648 1044 l2 -2 l2 2 M704 1030 l2 -2 l2 2 M680 1061 l2 -2 l2 2 M730 1046 l2 -2 l2 2" stroke-width="1.6"/>
<path d="M782.8 992.9 H792.5"/>
<circle cx="642" cy="1115.25" r="0.8" fill="#000" stroke="none"/>
<path d="M612.6 990.5 L623.9 996.9 M611 994 L622 1000" stroke-width="1.8"/>
<path d="M1004.4 586 L1100 588.5 L1189.8 591"/>
<rect x="1148.5" y="546.5" width="3" height="1.5" fill="#000" stroke="none"/>
<circle cx="1296" cy="668.6" r="8.5" fill="#000" stroke="none"/>
<path d="M1290.5 664.8000000000001 L1292 665.1 L1293 667.6 L1294 669.1 H1296.5 M1299.5 665.0 H1301.5 M1299.6 661.2 h0.8 M1296.2 666.8000000000001 h0.8" stroke="#fff" stroke-width="0.9" stroke-linecap="butt"/>
<path d="M1297.2 643.2 V662"/>
<path d="M1280 682.6 L1348 666 Q1352 663 1356 664 L1372 661 Q1376 657 1380 656 L1441 640.7"/>
<path d="M1273.6 694 L1352 675 Q1356 672 1362 673 L1375 670 L1450 649.6"/>
<path d="M1356 664 L1356 673 M1372 661 L1375 670" stroke-width="1.6"/>
<path d="M1441 640.7 Q1449 638 1452 642 L1453 648 L1444 651 M1437 642 L1440 651" stroke-width="2"/>
<ellipse cx="1446" cy="645" rx="3" ry="2.2" stroke-width="1.8"/>
<path d="M1280 682.6 Q1268 683 1264 688 Q1263 693 1268 695 L1273.6 694 M1278 683 L1281 693" stroke-width="2.2"/>
<ellipse cx="1270" cy="688.5" rx="3" ry="2.2" stroke-width="1.8"/>
<path d="M1290 676 L1284 681" stroke-width="1.8"/>
<path d="M1451.2 645 H1471.5"/>
<path d="M1373.8 710.5 L1432.0 659.7" stroke-width="6"/>
<ellipse cx="1376.4" cy="708.2" rx="6" ry="4.3" transform="rotate(-41.1 1376.4 708.2)" fill="#000" stroke="none"/>
<ellipse cx="1376.4" cy="708.2" rx="3.4" ry="1.6" transform="rotate(-41.1 1376.4 708.2)" fill="#fff" stroke="none"/>
<path d="M1380.8 704.4 L1415.7 673.9" stroke="#fff" stroke-width="0.8"/>
<path d="M1423.3 667.3 L1432.0 659.7" stroke-width="7"/>
<path d="M1400.5 693.2 H1425.8"/>
<path d="M1198.0 757.6 L1255.8 705.4" stroke-width="6"/>
<ellipse cx="1200.6" cy="755.3" rx="6" ry="4.3" transform="rotate(-42.1 1200.6 755.3)" fill="#000" stroke="none"/>
<ellipse cx="1200.6" cy="755.3" rx="3.4" ry="1.6" transform="rotate(-42.1 1200.6 755.3)" fill="#fff" stroke="none"/>
<path d="M1204.9 751.3 L1239.6 720.0" stroke="#fff" stroke-width="0.8"/>
<path d="M1247.1 713.2 L1255.8 705.4" stroke-width="7"/>
<path d="M1222.8 737.1 H1248.2"/>
<path d="M1257 701.6 L1272.3 691.5" stroke-width="2" stroke-dasharray="5 3" stroke-linecap="butt"/>
<path d="M1376.4 717 V886" stroke-width="2" stroke-dasharray="6 4" stroke-linecap="butt"/>
<path d="M1203 762.7 V916" stroke-width="2" stroke-dasharray="6 4" stroke-linecap="butt"/>
<path d="M969 714.4 L970 778.7" stroke-width="3.5"/>
<path d="M968.6 714.4 Q969 711.5 974.3 711.5 L991.5 707.9 L1028.7 707.2 L1084.4 693.6 L1078.7 690.8 L1078.7 685.8 L1108.8 677.2 L1118.8 680.8 L1152.4 670.7 L1154.5 662.2 L1176 657.9 Q1179.6 658 1179.6 660.7 L1179.6 718.7 L1167.4 768.7 L1120.2 783.7 L1108.8 779.5 L1088.7 785.9"/>
<path d="M974.3 717.2 L992.9 711.5 L1033 710.8 M1070.1 698.6 L1084.4 694.3 M1081 688 L1106 681 M1157 665 L1175 661.5 M1142 676 L1160 671" stroke-width="1.5"/>
<path d="M1087.3 793 L1060.1 800.2 L994.3 773 L970 778.7"/>
<path d="M1086.6 692.9 V793" stroke-width="3"/>
<path d="M992.2 718.7 V770.2 M1027.2 716.5 V789.5 M1108.8 686.5 V775.9" stroke-width="2.2"/>
<path d="M1118.8 690.8 V704 M1118.8 711 V755 M1118.8 762 V783" stroke-width="2.2"/>
<path d="M1166 720.1 V768.7" stroke-width="3"/>
<path d="M1178.1 725.8 L1167.4 764.4 M1166 669.3 V717.2" stroke-width="2"/>
<circle cx="1118.8" cy="707.5" r="3.2" stroke-width="2"/><circle cx="1118.8" cy="758.7" r="3.2" stroke-width="2"/>
<ellipse cx="1095.9" cy="758.7" rx="6" ry="12" transform="rotate(20 1095.9 758.7)" stroke-width="2.4"/>
<path d="M983.5 727 a2.4 2.4 0 1 0 0.5 3.5 M1064.3 730.5 a2.4 2.4 0 1 0 0.5 3.5 M1064.3 760 a2.4 2.4 0 1 0 0.5 3.5 M1064.3 788.5 a2.4 2.4 0 1 0 0.5 3.5 M1103.6 690.5 a2.4 2.4 0 1 0 0.5 3.5 M1132.2 737.7 a2.4 2.4 0 1 0 0.5 3.5 M1131.5 770 a2.4 2.4 0 1 0 0.5 3.5 M1155 732.7 a2.4 2.4 0 1 0 0.5 3.5 M1155 761.3 a2.4 2.4 0 1 0 0.5 3.5 M1173 674 a2.4 2.4 0 1 0 0.5 3.5 M1173 710.5 a2.4 2.4 0 1 0 0.5 3.5" stroke-width="1.8"/>
<g fill="#000" stroke="none"><circle cx="982.2" cy="755.1" r="2.2"/><circle cx="982.2" cy="768.7" r="2.5"/><circle cx="1074.4" cy="707.2" r="2.2"/><circle cx="1076.6" cy="753.7" r="2.2"/><circle cx="1076.6" cy="785.9" r="2.2"/><circle cx="1153.8" cy="706.5" r="2.5"/><circle cx="1087" cy="718" r="2.5"/><circle cx="1088" cy="735" r="2.5"/></g>
<path d="M1094.5 658.6 V680"/>
<circle cx="1073.75" cy="822.25" r="11.5" stroke-width="2.2"/>
<text x="1067.35" y="828.85" font-size="18" stroke="#000" stroke-width="0.8" fill="#000" textLength="13.6" lengthAdjust="spacingAndGlyphs">B</text>
<path d="M1036.25 823.5 H1061.25"/>
<path d="M988.6 774.4 L1063 816.5" stroke-width="2" stroke-dasharray="6 4" stroke-linecap="butt"/>
<circle cx="1359.3" cy="819" r="11.3" stroke-width="2.2"/>
<text x="1352.90" y="825.60" font-size="18" stroke="#000" stroke-width="0.8" fill="#000" textLength="13.6" lengthAdjust="spacingAndGlyphs">B</text>
<path d="M1375 822 H1392.8"/>
<path d="M1153.8 706.5 L1348 814" stroke-width="2" stroke-dasharray="6 4" stroke-linecap="butt"/>
<path d="M1164 790.3 Q1165 786.6 1169 786.6 L1180.3 786.6 Q1184.1 787 1184.1 790.3 L1184.1 896" stroke-width="2.4"/>
<path d="M1164 790.4 L1164 822.7" stroke-width="2.4"/>
<path d="M1167 791.5 L1181.7 805 L1166 818.5" stroke-width="2"/>
<path d="M1148.9 840.7 L1149.6 931.3 L1150.5 946 L1165.2 961.5 L1166.5 965.3 L1233.2 1005.5"/>
<path d="M1150.5 947 L1158 946 L1165 953 L1163 961 L1151 955 Z" stroke-width="2"/>
<path d="M1153 950 L1160 955 M1153 954 L1158 957" stroke-width="2"/>
<path d="M1148.9 838.2 L1180.3 802.9 M1151.5 842 L1182 807" stroke-width="2.2"/>
<path d="M1150 840.7 L1184.1 896 M1153 838 L1185 890" stroke-width="2.2"/>
<path d="M1184.1 896 L1205.5 931.3 L1230.7 1004.3"/>
<path d="M1162.7 838 Q1163 834 1168 833.5 L1179.1 833.1 Q1182.9 834 1182.9 840.7 L1182.9 863.3 L1170.3 865.8 Z" stroke-width="2"/>
<path d="M1164 848 V862" stroke-width="3"/>
<path d="M1254.6 767.7 L1254.6 831.9 L1288.6 860.8 L1321.3 878.4 L1336.4 906.1 L1337.6 916.2"/>
<path d="M1254.6 767.7 Q1256 762.7 1260 762.7 L1276 760.1 Q1283 762 1286 767.7 L1293.6 777.8 L1321.3 791.6 L1328.8 802.9"/>
<path d="M1258 770 L1276 764 M1294 782 L1318 795" stroke-width="1.4"/>
<path d="M1328.8 802.9 L1377.9 891 M1325 806 L1372 892" stroke-width="2.2"/>
<path d="M1377.9 891 L1389.3 903.6 L1403.1 936.3 L1403.1 956.5"/>
<path d="M1386 900 L1400 935" stroke-width="2.2"/>
<path d="M1273.5 781.5 V840.7 M1289.8 789.1 V855.8 M1322.5 806.7 V877.2" stroke-width="2.2"/>
<path d="M1296 803 L1313.7 799.1 L1313.7 825.6 L1296.1 829.4 Z"/>
<path d="M1297 806 V828" stroke-width="3"/>
<path d="M1205.5 926.3 L1321.3 898.6 M1205.5 936.3 L1321.3 907.4 M1321.3 898.6 L1323.8 911.2"/>
<path d="M1260 915 L1290 908" stroke-width="1.4"/>
<path d="M1336.4 913.7 L1409.4 959 L1409.4 971.6"/>
<path d="M1293.6 994.2 L1409.4 970.3 M1248.3 1016.9 L1409.4 972.8 M1230.7 1004.3 L1245.8 1016.9"/>
<path d="M1228 981 L1232 1003" stroke-width="2.6"/>
<g fill="#000" stroke="none"><path d="M1191 930 l4 -3 l3 4 l-2 6 l-4 1 z M1197 935 l3 -2 l2 3 l-3 3 z"/></g>
<path d="M1223.1 745 L1346.5 815.5" stroke-width="2" stroke-dasharray="6 4" stroke-linecap="butt"/>
<path d="M1195 935 L1177.8 941.4 L1296.1 1011.8" stroke-width="2" stroke-dasharray="6 4" stroke-linecap="butt"/>
<path d="M1377 890 L1411 912" stroke-width="2" stroke-dasharray="6 4" stroke-linecap="butt"/>
<path d="M1363 880 l3 -2 l2 3 M1377 885 l2 3" stroke-width="1.8"/>
<path d="M1133.75 901.5 H1148.75"/>
<g fill="#000" stroke="none"><path d="M1408.2 911 Q1409 909.9 1412 909.9 L1415.1 911 L1415.1 914 L1425 919 L1447.1 932.1 L1449 937.6 Q1456 940 1455 947 Q1453 954 1445 953.6 Q1436 953 1434 946 L1432.5 937.6 L1425 932 L1415.1 927.2 L1415.1 930.7 L1408.2 930.7 Z"/></g>
<path d="M1416 916 L1444 933 M1418 921 L1436 931" stroke-width="1" stroke="#fff" stroke-dasharray="1 2.2"/>
<path d="M1439 946 h4 M1443 950 h3" stroke-width="1" stroke="#fff"/>
<path d="M1432.2 905.9 V924.9"/>
<g fill="#000" stroke="none"><path d="M1303 1008.5 Q1303.5 1007.8 1306 1007.8 L1308.75 1009 L1308.75 1017 L1307 1019 L1315 1022.5 L1333.75 1034.4 L1337 1034 Q1339 1031.3 1344.5 1031.3 Q1352 1032 1352 1043 Q1351.5 1054.7 1344.5 1054.7 Q1338 1054 1337.5 1046 L1329 1045.8 L1310 1036 L1300 1031 L1295.2 1025 L1297.3 1017.2 L1303 1013 Z"/></g>
<path d="M1309 1028 L1327 1037.5 M1317 1028 L1330 1035" stroke-width="1" stroke="#fff" stroke-dasharray="1 2.2"/>
<path d="M1333 1037.5 h4 M1332.5 1040.5 h4 M1332 1043.5 h4" stroke-width="0.9" stroke="#fff"/>
<path d="M1310.3 1036.5 V1058.1" stroke-width="2.6"/>
<path d="M1399.4 995.2 L1412.3 990.9 L1412.3 980.9 L1506.9 952.2 L1512.6 955.1 L1512.6 963.7 L1521.2 962.2" stroke-width="2.4"/>
<path d="M1415 984 L1508 956.5" stroke-width="1.4"/>
<path d="M1515.5 949.3 Q1518 945 1527 945.7 L1538.4 956.5 L1538.4 1032.4 L1528.4 1038.2 L1525.5 1051.1 L1392.3 1089.8" stroke-width="2.4"/>
<path d="M1519.8 969.4 V1046.8" stroke-width="2.2"/>
<path d="M1527 985.2 L1541.3 984 L1541.3 1008.1 L1527 1008 M1528 996 L1541 995" stroke-width="2"/>
<path d="M1399.4 995.2 L1399.4 1089.8" stroke-width="2.4"/>
<path d="M1406.6 1003 Q1407 1000.9 1410 1000.2 L1515 970.5 Q1519.8 970 1519.8 974 L1519.8 986.5 Q1519.8 989.6 1516.9 990.2 L1411 1021.6 Q1407 1022.4 1406.8 1019 Z" stroke-width="2.4"/>
<path d="M1407 1031 Q1407.5 1028.1 1411 1027.5 L1515 1000.5 Q1519.8 1000 1519.8 1004 L1519.8 1015 Q1519.8 1018 1516.9 1018.5 L1411 1048.8 Q1407.5 1049.6 1407.2 1046 Z" stroke-width="2.4"/>
<path d="M1407 1059 Q1407.5 1056.1 1411 1055.5 L1515 1028.4 Q1519.8 1028 1519.8 1032 L1519.8 1043 Q1519.8 1046 1516.9 1046.5 L1411 1076.1 Q1407.5 1076.9 1407.2 1073 Z" stroke-width="2.4"/>
<path d="M1409.5 1004 V1020 M1409.5 1031 V1047 M1409.5 1059 V1075" stroke-width="4"/>
<path d="M1465 986 L1505 975 M1468 1013 L1508 1002 M1466 1041 L1506 1030" stroke-width="1.4"/>
<path d="M1367.9 1006.6 L1377.9 989.4 L1386.5 987.3 L1398 993.7" stroke-width="2.2"/>
<path d="M1368.5 1009.5 L1368.5 1078" stroke-width="7"/>
<path d="M1363.6 1078.3 L1373.6 1081.2 L1389.4 1089.8 L1392.3 1089.8" stroke-width="2.2"/>
<path d="M1385.8 992.3 V1085.4" stroke-width="2"/>
<path d="M1378 1027 L1390.8 1026.7 M1378 1040 L1390 1038 M1378 1049.6 L1390.8 1049" stroke-width="2"/>
<circle cx="1386" cy="1030" r="2.6" stroke-width="1.8"/><circle cx="1386" cy="1045" r="2.6" stroke-width="1.8"/>
<path d="M1473.5 1067 V1086"/>
<circle cx="1566" cy="1135.5" r="0.8" fill="#000" stroke="none"/>
<path d="M659.5 235.3 h3.5" stroke-width="1.6"/>
</g>
<g>
<text x="43.69" y="61.25" font-size="17" textLength="44.80" lengthAdjust="spacingAndGlyphs" xml:space="preserve">YH81</text>
<text x="333.87" y="67.00" font-size="16.5" textLength="135.04" lengthAdjust="spacingAndGlyphs" xml:space="preserve">90179-06097 (2)</text>
<text x="154.87" y="96.50" font-size="16.5" textLength="134.28" lengthAdjust="spacingAndGlyphs" xml:space="preserve">91615-61030 (4)</text>
<text x="292.17" y="105.50" font-size="16.5" textLength="67.84" lengthAdjust="spacingAndGlyphs" xml:space="preserve">74453A</text>
<text x="211.17" y="129.00" font-size="16.5" textLength="54.04" lengthAdjust="spacingAndGlyphs" xml:space="preserve">74413</text>
<text x="73.65" y="170.00" font-size="16.5" textLength="54.71" lengthAdjust="spacingAndGlyphs" xml:space="preserve">74417</text>
<text x="311.66" y="196.50" font-size="16.5" textLength="54.55" lengthAdjust="spacingAndGlyphs" xml:space="preserve">74413</text>
<text x="88.17" y="287.50" font-size="16.5" textLength="67.71" lengthAdjust="spacingAndGlyphs" xml:space="preserve">74411B</text>
<text x="356.16" y="287.50" font-size="16.5" textLength="54.63" lengthAdjust="spacingAndGlyphs" xml:space="preserve">74412</text>
<text x="380.61" y="342.50" font-size="16.5" textLength="135.80" lengthAdjust="spacingAndGlyphs" xml:space="preserve">91655-60825 (4)</text>
<text x="103.68" y="416.75" font-size="16.5" textLength="53.10" lengthAdjust="spacingAndGlyphs" xml:space="preserve">74421</text>
<text x="507.40" y="60.75" font-size="19" textLength="270.60" lengthAdjust="spacingAndGlyphs" xml:space="preserve">LH80 . . T1, T2, T3 (130E41L)</text>
<text x="507.41" y="81.25" font-size="19" textLength="200.59" lengthAdjust="spacingAndGlyphs" xml:space="preserve">LH85 . . T3 (130E41L)</text>
<text x="507.42" y="102.00" font-size="19" textLength="239.82" lengthAdjust="spacingAndGlyphs" xml:space="preserve">LH80, 85 . . TW (130E41L)</text>
<text x="785.66" y="116.75" font-size="16.5" textLength="68.61" lengthAdjust="spacingAndGlyphs" xml:space="preserve">74453A</text>
<text x="891.91" y="63.75" font-size="16.5" textLength="125.94" lengthAdjust="spacingAndGlyphs" xml:space="preserve">90179-08017 (2)</text>
<text x="581.16" y="212.00" font-size="16.5" textLength="54.55" lengthAdjust="spacingAndGlyphs" xml:space="preserve">74413</text>
<text x="891.66" y="173.25" font-size="16.5" textLength="54.55" lengthAdjust="spacingAndGlyphs" xml:space="preserve">74413</text>
<text x="863.12" y="211.25" font-size="16.5" textLength="134.54" lengthAdjust="spacingAndGlyphs" xml:space="preserve">91615-61034 (4)</text>
<text x="914.16" y="285.00" font-size="16.5" textLength="54.12" lengthAdjust="spacingAndGlyphs" xml:space="preserve">74412</text>
<text x="720.43" y="337.50" font-size="16.5" textLength="66.68" lengthAdjust="spacingAndGlyphs" xml:space="preserve">74411B</text>
<text x="548.67" y="441.00" font-size="16.5" textLength="53.87" lengthAdjust="spacingAndGlyphs" xml:space="preserve">74421</text>
<text x="1068.28" y="86.25" font-size="17" textLength="91.46" lengthAdjust="spacingAndGlyphs" xml:space="preserve">LH85 . . T2</text>
<text x="1421.87" y="121.80" font-size="16.5" textLength="133.73" lengthAdjust="spacingAndGlyphs" xml:space="preserve">90179-06097 (2)</text>
<text x="1372.47" y="161.40" font-size="16.5" textLength="67.33" lengthAdjust="spacingAndGlyphs" xml:space="preserve">74453A</text>
<text x="1127.15" y="179.50" font-size="16.5" textLength="54.71" lengthAdjust="spacingAndGlyphs" xml:space="preserve">74417</text>
<text x="1432.56" y="232.70" font-size="16.5" textLength="54.14" lengthAdjust="spacingAndGlyphs" xml:space="preserve">74413</text>
<text x="1297.65" y="266.00" font-size="16.5" textLength="55.27" lengthAdjust="spacingAndGlyphs" xml:space="preserve">74413</text>
<text x="983.91" y="358.50" font-size="16.5" textLength="124.93" lengthAdjust="spacingAndGlyphs" xml:space="preserve">90119-10336 (6)</text>
<text x="1437.37" y="400.20" font-size="16.5" textLength="133.53" lengthAdjust="spacingAndGlyphs" xml:space="preserve">91655-60825 (4)</text>
<text x="1105.44" y="419.25" font-size="16.5" textLength="52.59" lengthAdjust="spacingAndGlyphs" xml:space="preserve">74421</text>
<text x="43.69" y="557.50" font-size="17" textLength="130.98" lengthAdjust="spacingAndGlyphs" xml:space="preserve">YH81 (50D20R)</text>
<text x="42.74" y="575.50" font-size="17" textLength="227.94" lengthAdjust="spacingAndGlyphs" xml:space="preserve">LH80 . . MTM . . T1, T2, T3</text>
<text x="42.76" y="594.25" font-size="17" textLength="92.91" lengthAdjust="spacingAndGlyphs" xml:space="preserve">LH85 . . T3</text>
<text x="42.75" y="612.25" font-size="17" textLength="132.27" lengthAdjust="spacingAndGlyphs" xml:space="preserve">LH80, 85 . . TW</text>
<text x="259.87" y="656.00" font-size="16.5" textLength="133.53" lengthAdjust="spacingAndGlyphs" xml:space="preserve">90179-06097 (2)</text>
<text x="148.88" y="706.00" font-size="16.5" textLength="133.27" lengthAdjust="spacingAndGlyphs" xml:space="preserve">91615-61030 (4)</text>
<text x="348.15" y="688.10" font-size="16.5" textLength="69.27" lengthAdjust="spacingAndGlyphs" xml:space="preserve">74453A</text>
<text x="69.65" y="769.75" font-size="16.5" textLength="54.97" lengthAdjust="spacingAndGlyphs" xml:space="preserve">74417</text>
<text x="234.17" y="798.50" font-size="16.5" textLength="54.04" lengthAdjust="spacingAndGlyphs" xml:space="preserve">74413</text>
<text x="373.14" y="761.50" font-size="16.5" textLength="55.68" lengthAdjust="spacingAndGlyphs" xml:space="preserve">74413</text>
<text x="74.68" y="931.50" font-size="16.5" textLength="53.36" lengthAdjust="spacingAndGlyphs" xml:space="preserve">74421</text>
<text x="308.88" y="995.25" font-size="16.5" textLength="133.27" lengthAdjust="spacingAndGlyphs" xml:space="preserve">91655-60825 (4)</text>
<text x="99.17" y="1014.75" font-size="16.5" textLength="67.59" lengthAdjust="spacingAndGlyphs" xml:space="preserve">74451A</text>
<text x="91.86" y="1077.75" font-size="16.5" textLength="108.90" lengthAdjust="spacingAndGlyphs" xml:space="preserve">90119-08320</text>
<text x="528.25" y="589.00" font-size="17" textLength="111.74" lengthAdjust="spacingAndGlyphs" xml:space="preserve">LH80 . . ATM</text>
<text x="791.37" y="650.00" font-size="16.5" textLength="133.83" lengthAdjust="spacingAndGlyphs" xml:space="preserve">90179-08017 (2)</text>
<text x="698.67" y="697.60" font-size="16.5" textLength="67.84" lengthAdjust="spacingAndGlyphs" xml:space="preserve">74453A</text>
<text x="803.85" y="746.30" font-size="16.5" textLength="54.86" lengthAdjust="spacingAndGlyphs" xml:space="preserve">74413</text>
<text x="526.66" y="784.75" font-size="16.5" textLength="54.55" lengthAdjust="spacingAndGlyphs" xml:space="preserve">74413</text>
<text x="783.27" y="797.00" font-size="16.5" textLength="134.33" lengthAdjust="spacingAndGlyphs" xml:space="preserve">91615-61030 (4)</text>
<text x="807.24" y="878.50" font-size="16.5" textLength="55.46" lengthAdjust="spacingAndGlyphs" xml:space="preserve">74412</text>
<text x="654.20" y="913.25" font-size="16.5" textLength="65.40" lengthAdjust="spacingAndGlyphs" xml:space="preserve">74411B</text>
<text x="795.67" y="998.50" font-size="16.5" textLength="53.62" lengthAdjust="spacingAndGlyphs" xml:space="preserve">74421</text>
<text x="1008.56" y="582.00" font-size="17.5" textLength="177.96" lengthAdjust="spacingAndGlyphs" xml:space="preserve">LH85 . . T2 (80D26R)</text>
<text x="1241.27" y="639.40" font-size="16.5" textLength="134.64" lengthAdjust="spacingAndGlyphs" xml:space="preserve">90179-08017 (2)</text>
<text x="1475.78" y="650.90" font-size="16.5" textLength="67.23" lengthAdjust="spacingAndGlyphs" xml:space="preserve">74453A</text>
<text x="1067.90" y="652.25" font-size="16.5" textLength="54.71" lengthAdjust="spacingAndGlyphs" xml:space="preserve">74417</text>
<text x="1428.74" y="696.50" font-size="16.5" textLength="55.38" lengthAdjust="spacingAndGlyphs" xml:space="preserve">74413</text>
<text x="1251.13" y="743.50" font-size="16.5" textLength="56.20" lengthAdjust="spacingAndGlyphs" xml:space="preserve">74413</text>
<text x="913.17" y="829.00" font-size="16.5" textLength="123.92" lengthAdjust="spacingAndGlyphs" xml:space="preserve">90119-10336 (6)</text>
<text x="1393.41" y="829.70" font-size="16.5" textLength="125.43" lengthAdjust="spacingAndGlyphs" xml:space="preserve">90119-10336 (4)</text>
<text x="1076.64" y="907.00" font-size="16.5" textLength="55.40" lengthAdjust="spacingAndGlyphs" xml:space="preserve">74042</text>
<text x="1407.19" y="898.80" font-size="16.5" textLength="52.13" lengthAdjust="spacingAndGlyphs" xml:space="preserve">74481</text>
<text x="1282.87" y="1074.10" font-size="16.5" textLength="53.46" lengthAdjust="spacingAndGlyphs" xml:space="preserve">74481</text>
<text x="1446.58" y="1102.50" font-size="16.5" textLength="52.85" lengthAdjust="spacingAndGlyphs" xml:space="preserve">74461</text>
<text x="1457.21" y="1137.50" font-size="16" textLength="89.88" lengthAdjust="spacingAndGlyphs" xml:space="preserve">MB  P104-D</text>
</g>
</svg>
</body></html>
